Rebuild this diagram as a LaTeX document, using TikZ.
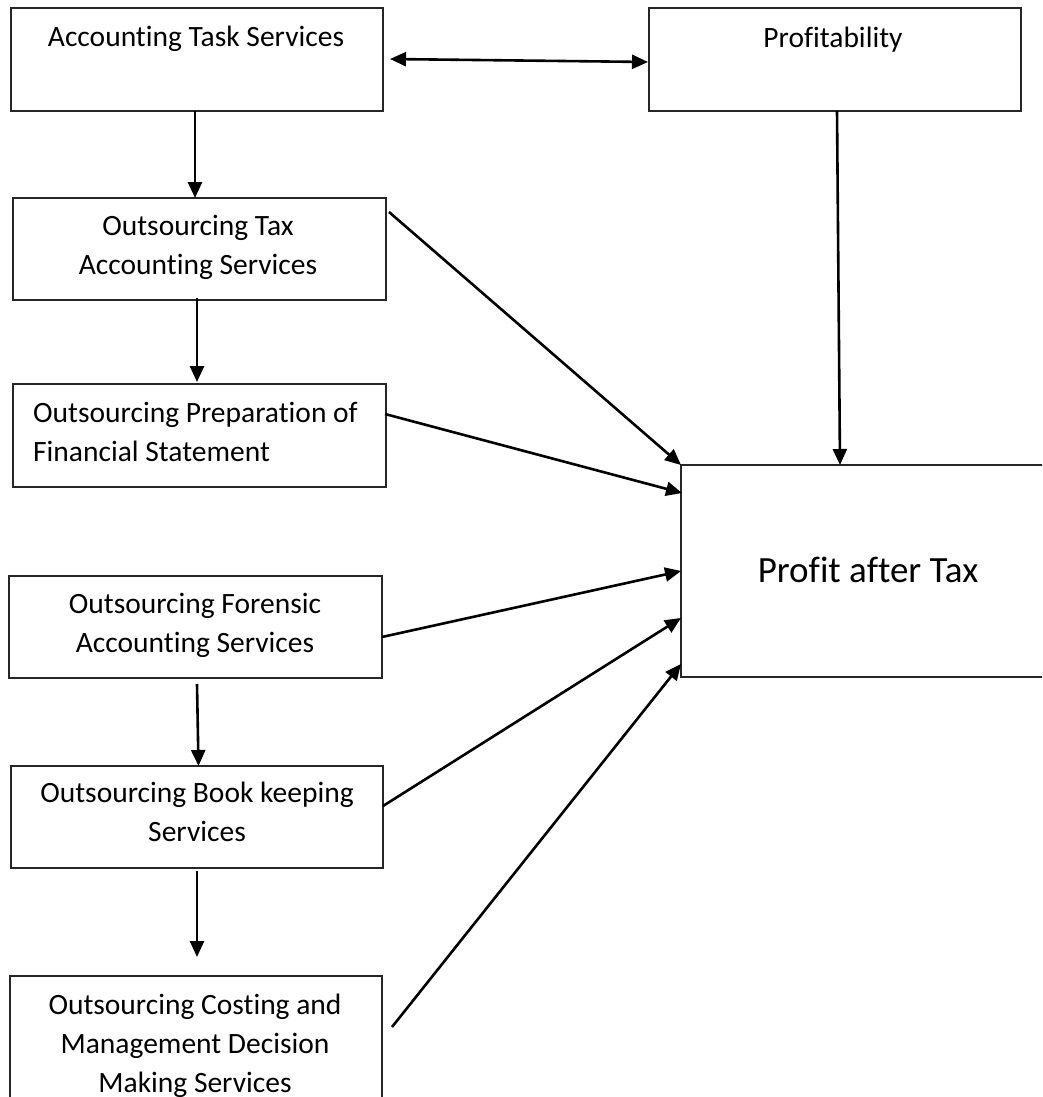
\documentclass[tikz,border=0pt]{standalone}
\usepackage{fontspec}
\setmainfont[Ligatures={NoCommon}]{Carlito}
\usetikzlibrary{arrows.meta,calc}
\begin{document}
\begin{tikzpicture}[x=1pt,y=-1pt,
  box/.style={draw=black!85, line width=1.3pt, inner sep=0pt, outer sep=0pt},
  lbl/.style={font=\fontsize{29.5}{39}\selectfont, inner sep=0pt, anchor=base, align=center},
  conn/.style={line width=2.6pt, -{Triangle[length=16pt,width=14pt]}},
  biconn/.style={line width=2.6pt, {Triangle[length=16pt,width=14pt]}-{Triangle[length=16pt,width=14pt]}},
]
\clip (0,0) rectangle (1042,1097);
\useasboundingbox (0,0) rectangle (1042,1097);
\fill[white] (0,0) rectangle (1042,1097);

% boxes
\node[box, minimum width=372pt, minimum height=103pt] (ats)  at (197,59.5) {};
\node[box, minimum width=372pt, minimum height=103pt] (prof) at (835,59.5) {};
\node[box, minimum width=373pt, minimum height=102pt] (tax)  at (199.5,249) {};
\node[box, minimum width=373pt, minimum height=103pt] (prep) at (199.5,435.5) {};
\node[box, minimum width=373pt, minimum height=102pt] (for)  at (195.5,627) {};
\node[box, minimum width=372pt, minimum height=102pt] (book) at (197,817) {};
\node[box, minimum width=372pt, minimum height=154pt] (cost) at (196,1053) {};
\node[box, minimum width=379pt, minimum height=212pt] (pat)  at (870.5,571) {};

% texts (base anchor = baseline of the last line)
\node[lbl] (atsT)  at (196,47)  {Accounting Task Services};
\node[lbl] (profT) at (833,48)  {Profitability};
\node[lbl] (taxT)  at (198,274) {Outsourcing Tax\\Accounting Services};
\node[lbl, anchor=base west, align=left] (prepT) at (33,461) {Outsourcing Preparation of\\Financial Statement};
\node[lbl] (forT)  at (195,652) {Outsourcing Forensic\\Accounting Services};
\node[lbl] (bookT) at (197,841) {Outsourcing Book keeping\\Services};
\node[lbl] (costT) at (195,1092) {Outsourcing Costing and\\Management Decision\\Making Services};
\node[lbl, font=\fontsize{37}{44}\selectfont] (patT) at (868,582) {Profit after Tax};

% vertical connectors
\draw[conn] ($(ats.south)+(-2,0)$) -- ($(tax.north)+(-4.5,0)$);
\draw[conn] ($(tax.south)+(-2.5,-2)$) -- ($(prep.north)+(-2.5,-2)$);
\draw[conn] ($(for.south)+(1.5,6)$) -- ($(book.north)+(1.5,0)$);
\coordinate (costIn) at ($(cost.north)+(1,-19)$);
\draw[conn] ($(book.south)+(0,3)$) -- (costIn);

% top connectors
\draw[biconn] ($(ats.east)+(7,-0.5)$) -- ($(prof.west)+(-1,2.5)$);
\draw[conn] ($(prof.south)+(2,0)$) -- ($(pat.north)+(-30.5,0)$);

% into Profit after Tax
\draw[conn] ($(tax.north east)+(3,14)$) -- (pat.north west);
\draw[conn] ($(prep.north east)+(-1,30)$) -- ($(pat.north west)+(1,28)$);
\draw[conn] ($(for.east)+(0,10)$) -- (pat.west);
\draw[conn] ($(book.east)+(0,-11)$) -- ($(pat.west)+(0,47)$);
\coordinate (costOut) at ($(cost.north east)+(10,51)$);
\draw[conn] (costOut) -- ($(pat.south west)+(0,-13)$);
\end{tikzpicture}
\end{document}
